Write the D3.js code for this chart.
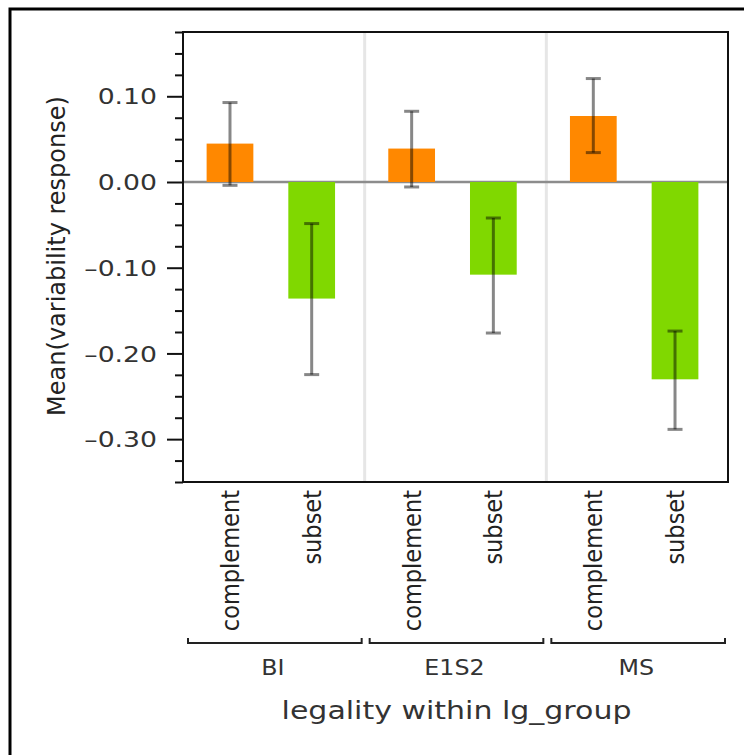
<!DOCTYPE html>
<html>
<head>
<meta charset="utf-8">
<script src="https://cdn.jsdelivr.net/npm/d3@7"></script>
<style>
  html, body { margin: 0; padding: 0; background: #fff; }
  svg { display: block; font-family: "DejaVu Sans", Verdana, sans-serif; }
</style>
</head>
<body>
<svg id="chart" width="744" height="755"></svg>
<script>
// ---- data ----
const groups = ["BI", "E1S2", "MS"];
const legality = ["complement", "subset"];
const meanComplement = [0.0448, 0.0390, 0.0770];
const meanSubset = [-0.1360, -0.1081, -0.2302];
const lowerComplement = [-0.0039, -0.0058, 0.0343];
const upperComplement = [0.0927, 0.0825, 0.1207];
const lowerSubset = [-0.2247, -0.1762, -0.2886];
const upperSubset = [-0.0485, -0.0420, -0.1739];
const majorTicks = [0.10, 0.00, -0.10, -0.20, -0.30];
const minorTicks = [0.175, 0.15, 0.125, 0.075, 0.05, 0.025, -0.025, -0.05, -0.075,
  -0.125, -0.15, -0.175, -0.225, -0.25, -0.275, -0.325, -0.35];
const yTitle = "Mean(variability response)";
const xTitle = "legality within lg_group";

// build records
const records = [];
groups.forEach((g, i) => {
  records.push({group: g, cat: "complement", mean: meanComplement[i], lo: lowerComplement[i], hi: upperComplement[i]});
  records.push({group: g, cat: "subset", mean: meanSubset[i], lo: lowerSubset[i], hi: upperSubset[i]});
});

// ---- layout ----
const svg = d3.select("#chart");
const plot = {left: 183, top: 32, right: 728, bottom: 482};
const colors = {complement: "#ff8800", subset: "#80d800"};

const y = d3.scaleLinear().domain([-0.35, 0.175]).range([plot.bottom, plot.top]);
const xGroup = d3.scaleBand().domain(groups).range([plot.left, plot.right]).padding(0);
const gbw = xGroup.bandwidth();
const xInner = d3.scaleBand().domain(legality)
  .range([0.13 * gbw, 0.837 * gbw]).paddingInner(0.428).paddingOuter(0);

// outer border
svg.append("rect").attr("x", 10).attr("y", 9).attr("width", 760).attr("height", 770)
  .attr("fill", "none").attr("stroke", "#000").attr("stroke-width", 3);

// group separators
svg.append("g").selectAll("line").data(groups.slice(1)).join("line")
  .attr("x1", d => xGroup(d)).attr("x2", d => xGroup(d))
  .attr("y1", plot.top).attr("y2", plot.bottom)
  .attr("stroke", "#e6e6e6").attr("stroke-width", 3);

// zero line
svg.append("line").attr("x1", plot.left).attr("x2", plot.right)
  .attr("y1", y(0)).attr("y2", y(0))
  .attr("stroke", "#8c8c8c").attr("stroke-width", 2.5);

// bars
svg.append("g").selectAll("rect").data(records).join("rect")
  .attr("x", d => xGroup(d.group) + xInner(d.cat))
  .attr("width", xInner.bandwidth())
  .attr("y", d => y(Math.max(0, d.mean)))
  .attr("height", d => Math.abs(y(d.mean) - y(0)))
  .attr("fill", d => colors[d.cat]);

// error bars
const eb = svg.append("g").attr("stroke", "rgba(0,0,0,0.47)").attr("stroke-width", 3);
const cx = d => xGroup(d.group) + xInner(d.cat) + xInner.bandwidth() / 2;
eb.selectAll("line.v").data(records).join("line").attr("class", "v")
  .attr("x1", cx).attr("x2", cx).attr("y1", d => y(d.hi)).attr("y2", d => y(d.lo));
eb.selectAll("line.t").data(records).join("line").attr("class", "t")
  .attr("x1", d => cx(d) - 7.5).attr("x2", d => cx(d) + 7.5)
  .attr("y1", d => y(d.hi)).attr("y2", d => y(d.hi));
eb.selectAll("line.b").data(records).join("line").attr("class", "b")
  .attr("x1", d => cx(d) - 7.5).attr("x2", d => cx(d) + 7.5)
  .attr("y1", d => y(d.lo)).attr("y2", d => y(d.lo));

// plot frame
svg.append("rect").attr("x", plot.left).attr("y", plot.top)
  .attr("width", plot.right - plot.left).attr("height", plot.bottom - plot.top)
  .attr("fill", "none").attr("stroke", "#111").attr("stroke-width", 2);

// y axis
const fmtLocale = d3.formatLocale({decimal: ".", thousands: ",", grouping: [3], currency: ["", ""], minus: "\u2013"});
const fmt = fmtLocale.format(".2f");
const yAxisMajor = svg.append("g").attr("transform", `translate(${plot.left},0)`)
  .call(d3.axisLeft(y).tickValues(majorTicks).tickSize(16).tickPadding(10).tickFormat(fmt));
const yAxisMinor = svg.append("g").attr("transform", `translate(${plot.left},0)`)
  .call(d3.axisLeft(y).tickValues(minorTicks).tickSize(8).tickFormat(""));
[yAxisMajor, yAxisMinor].forEach(a => {
  a.select(".domain").remove();
  a.selectAll(".tick line").attr("stroke", "#111").attr("stroke-width", 2);
});
yAxisMajor.selectAll(".tick text")
  .attr("x", null).attr("dy", "0.36em")
  .attr("transform", "translate(-26,0) scale(1.27,1)")
  .attr("font-size", 21).attr("fill", "#333").attr("font-family", "DejaVu Sans");

// y title
svg.append("text")
  .attr("transform", "translate(65,256) rotate(-90)")
  .attr("text-anchor", "middle").attr("font-size", 24).attr("fill", "#222")
  .text(yTitle);

// x category labels (rotated)
svg.append("g").selectAll("text").data(records).join("text")
  .attr("transform", d => `translate(${cx(d)},490) rotate(-90) scale(1,1.1)`)
  .attr("text-anchor", "end").attr("dy", "0.36em")
  .attr("font-size", 22.5).attr("fill", "#222")
  .text(d => d.cat);

// group brackets
const br = svg.append("g").attr("fill", "none").attr("stroke", "#222").attr("stroke-width", 2);
br.selectAll("path").data(groups).join("path")
  .attr("d", g => {
    const x0 = xGroup(g) + 5, x1 = xGroup(g) + gbw - 3, yb = 643;
    return `M${x0},${yb - 5}V${yb}H${x1}V${yb - 5}`;
  });

// group labels
svg.append("g").selectAll("text").data(groups).join("text")
  .attr("transform", g => `translate(${xGroup(g) + gbw / 2 - 1},675) scale(1.08,1)`)
  .attr("text-anchor", "middle").attr("font-size", 22).attr("fill", "#333")
  .text(g => g);

// x title
svg.append("text")
  .attr("transform", `translate(${(plot.left + plot.right) / 2 + 1},719) scale(1.25,1)`)
  .attr("text-anchor", "middle").attr("font-size", 24).attr("fill", "#333")
  .text(xTitle);
</script>
</body>
</html>
